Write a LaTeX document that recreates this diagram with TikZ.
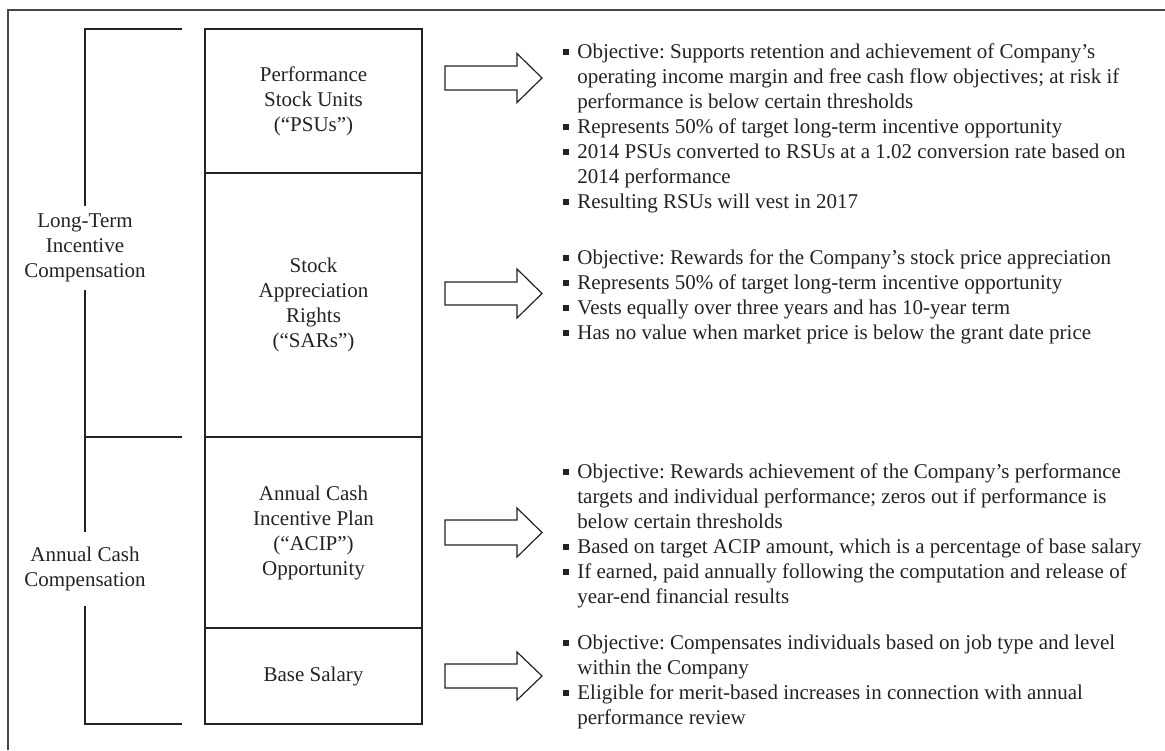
\documentclass[tikz,border=0pt]{standalone}
\usepackage{fontspec}
\setmainfont{Liberation Serif}
\usepackage{xcolor}
\definecolor{inkblack}{RGB}{35,35,35}
\definecolor{framegray}{RGB}{70,70,70}
% square bullet mark
\newcommand{\sqmark}{\makebox[7pt][l]{\raisebox{1.5pt}{\rule{2.9pt}{2.9pt}}}}

\begin{document}
\begin{tikzpicture}[x=0.5pt, y=-0.5pt, font=\fontsize{10.5}{12.5}\selectfont\frenchspacing, text=inkblack,
  box/.style={draw=inkblack, line width=0.75pt, minimum width=108.5pt, inner sep=0pt, outer sep=0pt, align=center, anchor=north west},
  side/.style={align=center, inner xsep=2pt},
  bullets/.style={anchor=base west, inner sep=0pt},
  bracket/.style={inkblack, line width=0.8pt},
  fatarrow/.style={draw=inkblack, line width=0.6pt, fill=white, line join=miter}]

  \useasboundingbox (0,0) rectangle (1165,750);

  % Frame
  \draw[framegray, line width=0.7pt] (8,750) -- (8,10) -- (1165,10);

  % Column of boxes
  \node[box, minimum height=72pt] (psu) at (205,29) {Performance\\Stock Units\\(“PSUs”)};
  \node[box, minimum height=132pt] (sar) at (psu.south west) {Stock\\Appreciation\\Rights\\(“SARs”)};
  \node[box, minimum height=95.5pt] (acip) at (sar.south west) {Annual Cash\\Incentive Plan\\(“ACIP”)\\Opportunity};
  \node[box, minimum height=48pt] (base) at (acip.south west) {Base Salary};

  % Bracket with labels
  \node[side, inner ysep=3.8pt] (lt) at (85,248) {Long-Term\\Incentive\\Compensation};
  \node[side, inner ysep=7.5pt] (ac) at (85,569) {Annual Cash\\Compensation};
  \coordinate (brtop) at (85,29);
  \coordinate (brtopend) at (182,29);
  \coordinate (brmid) at (85,437);
  \coordinate (brmidend) at (182,437);
  \coordinate (brbot) at (85,724);
  \coordinate (brbotend) at (182,724);
  \draw[bracket] (brtopend) -- (brtop) -- (lt.north);
  \draw[bracket] (lt.south) -- (ac.north);
  \draw[bracket] (brmid) -- (brmidend);
  \draw[bracket] (ac.south) -- (brbot) -- (brbotend);

  % Block arrows
  \draw[fatarrow] (445,66) -- (517,66) -- (517,53.5) -- (542,78) -- (517,102.5) -- (517,90) -- (445,90) -- cycle;
  \draw[fatarrow] (445,282) -- (517,282) -- (517,269) -- (542,293.5) -- (517,318) -- (517,305) -- (445,305) -- cycle;
  \draw[fatarrow] (445,520) -- (517,520) -- (517,508) -- (542,532.5) -- (517,557) -- (517,545) -- (445,545) -- cycle;
  \draw[fatarrow] (445,664) -- (517,664) -- (517,652) -- (542,676) -- (517,700) -- (517,688) -- (445,688) -- cycle;

  % Bullet lists
  \node[bullets] (psutext) at (563,58) {\begin{tabular}[t]{@{}l@{}l@{}}
    \sqmark & Objective: Supports retention and achievement of Company’s\\
            & operating income margin and free cash flow objectives; at risk if\\
            & performance is below certain thresholds\\
    \sqmark & Represents 50\% of target long-term incentive opportunity\\
    \sqmark & 2014 PSUs converted to RSUs at a 1.02 conversion rate based on\\
            & 2014 performance\\
    \sqmark & Resulting RSUs will vest in 2017
  \end{tabular}};
  \node[bullets] (sartext) at (563,264) {\begin{tabular}[t]{@{}l@{}l@{}}
    \sqmark & Objective: Rewards for the Company’s stock price appreciation\\
    \sqmark & Represents 50\% of target long-term incentive opportunity\\
    \sqmark & Vests equally over three years and has 10-year term\\
    \sqmark & Has no value when market price is below the grant date price
  \end{tabular}};
  \node[bullets] (aciptext) at (563,478) {\begin{tabular}[t]{@{}l@{}l@{}}
    \sqmark & Objective: Rewards achievement of the Company’s performance\\
            & targets and individual performance; zeros out if performance is\\
            & below certain thresholds\\
    \sqmark & Based on target ACIP amount, which is a percentage of base salary\\
    \sqmark & If earned, paid annually following the computation and release of\\
            & year-end financial results
  \end{tabular}};
  \node[bullets] (basetext) at (563,649) {\begin{tabular}[t]{@{}l@{}l@{}}
    \sqmark & Objective: Compensates individuals based on job type and level\\
            & within the Company\\
    \sqmark & Eligible for merit-based increases in connection with annual\\
            & performance review
  \end{tabular}};

\end{tikzpicture}
\end{document}
